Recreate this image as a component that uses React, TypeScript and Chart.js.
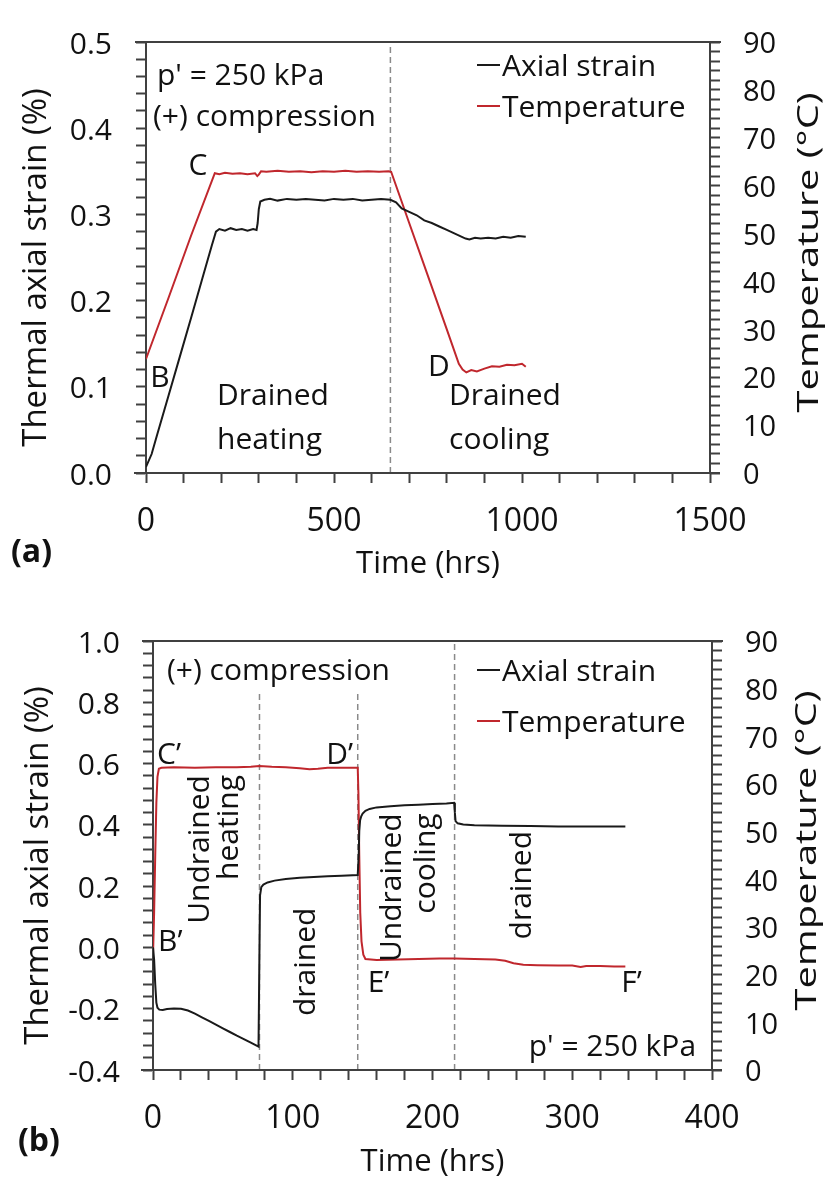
import { useEffect, useRef } from 'react';
import { Chart, registerables } from 'chart.js';

Chart.register(...registerables);

const FONT = '"Open Sans", "Noto Sans", sans-serif';
const BLACK = '#1a1a1a';
const RED = '#c0272d';
const AXIS = '#404040';
const DASH = '#8a8a8a';
const TEXT = '#111111';

const SERIES_NAMES = ['Axial strain', 'Temperature'];
const X_TITLE = 'Time (hrs)';
const LEFT_TITLE = 'Thermal axial strain (%)';
const RIGHT_TITLE = 'Temperature (\u00B0C)';

// ---------------- Panel (a) ----------------
const A_STRAIN_TIME = [
  0, 15, 30, 60, 90, 120, 150, 175,
  186, 195, 210, 225, 240, 255, 270, 285,
  294, 297, 300, 304, 315, 330, 350, 375,
  400, 425, 450, 475, 500, 525, 550, 575,
  600, 625, 650, 665, 680, 700, 720, 740,
  760, 780, 800, 820, 840, 850, 860, 875,
  890, 910, 930, 950, 970, 990, 1010,
];
const A_STRAIN = [
  0.007, 0.022, 0.045, 0.090, 0.135, 0.180, 0.226, 0.264,
  0.280, 0.283, 0.281, 0.284, 0.282, 0.283, 0.281, 0.283,
  0.282, 0.290, 0.306, 0.315, 0.317, 0.318, 0.316, 0.318,
  0.317, 0.318, 0.317, 0.316, 0.318, 0.317, 0.318, 0.316,
  0.317, 0.318, 0.317, 0.314, 0.307, 0.303, 0.299, 0.293,
  0.290, 0.286, 0.282, 0.278, 0.274, 0.272, 0.271, 0.273,
  0.272, 0.273, 0.272, 0.274, 0.273, 0.275, 0.274,
];
const A_TEMP_TIME = [
  0, 60, 120, 183, 195, 210, 230, 250,
  270, 290, 296, 300, 306, 320, 350, 380,
  410, 440, 470, 500, 530, 560, 590, 620,
  645, 652, 700, 750, 800, 832, 842, 852,
  865, 880, 900, 920, 940, 960, 980, 1000,
  1010,
];
const A_TEMP = [
  23.8, 36.6, 49.6, 62.6, 62.4, 62.7, 62.5, 62.6,
  62.4, 62.6, 62.0, 62.3, 63.0, 62.9, 63.1, 62.9,
  63.0, 62.8, 63.0, 62.9, 63.1, 62.9, 63.0, 62.9,
  63.0, 62.9, 52.2, 41.1, 30.0, 22.8, 21.6, 21.0,
  21.5, 21.2, 21.8, 22.3, 22.2, 22.6, 22.5, 22.8,
  22.2,
];
const A_DIVIDER_TIME = [650];
const A_DIVIDER_TOP = [0.5];
const A_X_LABELS = [0, 500, 1000, 1500];
const A_STRAIN_LABELS = [0.0, 0.1, 0.2, 0.3, 0.4, 0.5];
const A_TEMP_LABELS = [0, 10, 20, 30, 40, 50, 60, 70, 80, 90];
const A_NOTES = [
  { text: "p' = 250 kPa", t: 29, s: 0.460, align: 'left' },
  { text: '(+) compression', t: 18.6, s: 0.412, align: 'left' },
  { text: 'C', t: 138, s: 0.356, align: 'center' },
  { text: 'B', t: 37, s: 0.110, align: 'center' },
  { text: 'Drained', t: 189, s: 0.0892, align: 'left' },
  { text: 'heating', t: 189, s: 0.0377, align: 'left' },
  { text: 'D', t: 779, s: 0.122, align: 'center' },
  { text: 'Drained', t: 806, s: 0.0892, align: 'left' },
  { text: 'cooling', t: 806, s: 0.0377, align: 'left' },
];

// ---------------- Panel (b) ----------------
const B_STRAIN_TIME = [
  0, 0.8, 1.6, 2.4, 3.2, 4.5, 7, 10,
  15, 20, 25, 30, 35, 40, 45, 50,
  55, 60, 65, 70, 75.5, 76.2, 76.6, 77.5,
  79, 82, 87, 95, 105, 115, 125, 135,
  146.5, 147.2, 147.6, 148.2, 149, 150, 152, 155,
  160, 170, 180, 190, 200, 210, 215.5, 216,
  216.5, 218, 222, 230, 250, 270, 290, 310,
  338,
];
const B_STRAIN = [
  0.0, -0.04, -0.12, -0.18, -0.197, -0.203, -0.204, -0.201,
  -0.199, -0.200, -0.206, -0.216, -0.228, -0.240, -0.252, -0.264,
  -0.276, -0.288, -0.299, -0.311, -0.324, 0.0, 0.17, 0.197,
  0.205, 0.212, 0.218, 0.223, 0.227, 0.230, 0.232, 0.234,
  0.236, 0.30, 0.38, 0.415, 0.428, 0.437, 0.446, 0.452,
  0.457, 0.461, 0.464, 0.466, 0.468, 0.470, 0.472, 0.44,
  0.412, 0.405, 0.401, 0.399, 0.397, 0.396, 0.395, 0.395,
  0.395,
];
const B_TEMP_TIME = [
  0, 0.8, 1.6, 2.4, 3.2, 4.2, 6, 15,
  30, 45, 60, 70, 76, 85, 95, 105,
  112, 118, 125, 135, 146.5, 147, 147.6, 148.3,
  149.2, 150.5, 152, 160, 175, 190, 205, 216,
  230, 245, 252, 258, 265, 275, 290, 300,
  306, 310, 320, 330, 338,
];
const B_TEMP = [
  24.0, 33, 45, 56, 61.5, 63.2, 63.4, 63.5,
  63.4, 63.5, 63.5, 63.6, 63.8, 63.6, 63.5, 63.3,
  63.1, 63.2, 63.4, 63.4, 63.4, 58, 45, 33,
  27, 24.2, 23.3, 23.1, 23.2, 23.3, 23.4, 23.4,
  23.3, 23.2, 22.9, 22.4, 22.1, 22.0, 21.9, 21.9,
  21.6, 21.8, 21.8, 21.7, 21.7,
];
const B_DIVIDER_TIME = [76.2, 146.5, 215.8];
const B_DIVIDER_TOP = [0.83, 0.83, 1.0];
const B_X_LABELS = [0, 100, 200, 300, 400];
const B_STRAIN_LABELS = [-0.4, -0.2, 0.0, 0.2, 0.4, 0.6, 0.8, 1.0];
const B_TEMP_LABELS = [0, 10, 20, 30, 40, 50, 60, 70, 80, 90];
const B_NOTES = [
  { text: '(+) compression', t: 10, s: 0.9, align: 'left' },
  { text: 'C\u2019', t: 2.9, s: 0.625, align: 'left' },
  { text: 'D\u2019', t: 124, s: 0.625, align: 'left' },
  { text: 'B\u2019', t: 3.6, s: 0.016, align: 'left' },
  { text: 'E\u2019', t: 153.6, s: -0.116, align: 'left' },
  { text: 'F\u2019', t: 335, s: -0.116, align: 'left' },
  { text: "p' = 250 kPa", t: 388.6, s: -0.328, align: 'right' },
  { text: 'Undrained', t: 34.3, s: 0.5625, align: 'right', rotate: true },
  { text: 'heating', t: 55, s: 0.5625, align: 'right', rotate: true },
  { text: 'drained', t: 110, s: -0.047, align: 'center', rotate: true },
  { text: 'Undrained', t: 171.4, s: 0.4375, align: 'right', rotate: true },
  { text: 'cooling', t: 195.7, s: 0.4375, align: 'right', rotate: true },
  { text: 'drained', t: 264.6, s: 0.203, align: 'center', rotate: true },
];

const PANEL_A = {
  strainTime: A_STRAIN_TIME, strain: A_STRAIN, tempTime: A_TEMP_TIME, temp: A_TEMP,
  dividerTime: A_DIVIDER_TIME, dividerTop: A_DIVIDER_TOP,
  xMin: 0, xMax: 1500, xStep: 100, xLabels: A_X_LABELS,
  sMin: 0, sMax: 0.5, sStep: 0.02, sLabels: A_STRAIN_LABELS,
  tMin: 0, tMax: 90, tStep: 2, tLabels: A_TEMP_LABELS,
  padTop: 24, xHeight: 127, leftWidth: 146, rightWidth: 120,
  leftTickPad: 24, rightTickPad: 23, xTickPad: 20, leftTitleX: 37, xTitlePad: 17,
  notes: A_NOTES, legendRows: [25, 66], legendX: 233, rightTitleOffset: 99,
  panelLabel: '(a)', panelLabelX: 11, panelLabelDy: 80,
};

const PANEL_B = {
  strainTime: B_STRAIN_TIME, strain: B_STRAIN, tempTime: B_TEMP_TIME, temp: B_TEMP,
  dividerTime: B_DIVIDER_TIME, dividerTop: B_DIVIDER_TOP,
  xMin: 0, xMax: 400, xStep: 20, xLabels: B_X_LABELS,
  sMin: -0.4, sMax: 1.0, sStep: 0.04, sLabels: B_STRAIN_LABELS,
  tMin: 0, tMax: 90, tStep: 2, tLabels: B_TEMP_LABELS,
  padTop: 22, xHeight: 112, leftWidth: 153, rightWidth: 118,
  leftTickPad: 23, rightTickPad: 23, xTickPad: 20, leftTitleX: 39, xTitlePad: 1,
  notes: B_NOTES, legendRows: [31, 82], legendX: 235, rightTitleOffset: 95,
  panelLabel: '(b)', panelLabelX: 18, panelLabelDy: 72,
};

const pts = (xs: number[], ys: number[]) => xs.map((x, i) => ({ x, y: ys[i] }));
const isLabel = (labels: number[], v: number) => labels.some((l) => Math.abs(l - v) < 1e-6);

function drawOverlay(chart: any, p: any) {
  const { ctx, chartArea: ca, scales } = chart;
  const xs = scales.x;
  const yl = scales.yL;
  const midY = (ca.top + ca.bottom) / 2;
  ctx.save();
  // frame: top line, and slight extension of bottom line
  ctx.strokeStyle = AXIS;
  ctx.lineWidth = 2;
  ctx.beginPath();
  ctx.moveTo(ca.left - 11, ca.top);
  ctx.lineTo(ca.right + 11, ca.top);
  ctx.moveTo(ca.left - 12, ca.bottom);
  ctx.lineTo(ca.right + 10, ca.bottom);
  ctx.stroke();

  // annotations
  ctx.fillStyle = TEXT;
  ctx.textBaseline = 'middle';
  for (const n of p.notes) {
    const x = xs.getPixelForValue(n.t);
    const y = yl.getPixelForValue(n.s);
    ctx.save();
    ctx.translate(x, y);
    if (n.rotate) ctx.rotate(-Math.PI / 2);
    ctx.font = `30px ${FONT}`;
    ctx.textAlign = n.align;
    ctx.fillText(n.text, 0, 0);
    ctx.restore();
  }

  // legend
  const ds = chart.data.datasets;
  [0, 1].forEach((i) => {
    const y = ca.top + p.legendRows[i];
    const x0 = ca.right - p.legendX;
    ctx.strokeStyle = ds[i].borderColor;
    ctx.lineWidth = 2;
    ctx.beginPath();
    ctx.moveTo(x0, y - 2);
    ctx.lineTo(x0 + 23, y - 2);
    ctx.stroke();
    ctx.font = `30px ${FONT}`;
    ctx.textAlign = 'left';
    ctx.fillStyle = TEXT;
    ctx.fillText(ds[i].label, x0 + 25, y);
  });

  // left axis title (slightly below the axis middle, as in the figure)
  const lt = scales.yL.options.title.text;
  ctx.save();
  ctx.translate(p.leftTitleX, midY + 10);
  ctx.rotate(-Math.PI / 2);
  ctx.font = `33px ${FONT}`;
  ctx.textAlign = 'center';
  ctx.fillText(lt, 0, 0);
  ctx.restore();

  // right axis title (reads bottom-to-top)
  const rt = scales.yR.options.title.text;
  ctx.save();
  ctx.translate(ca.right + p.rightTitleOffset, midY - 5);
  ctx.rotate(-Math.PI / 2);
  ctx.scale(1.33, 1);
  ctx.font = `30px ${FONT}`;
  ctx.textAlign = 'center';
  ctx.fillText(rt, 0, 0);
  ctx.restore();

  // panel label
  ctx.font = `bold 32px ${FONT}`;
  ctx.textAlign = 'left';
  ctx.fillText(p.panelLabel, p.panelLabelX, ca.bottom + p.panelLabelDy);
  ctx.restore();
}

function makeChart(canvas: HTMLCanvasElement, p: any) {
  const datasets: any[] = [
    {
      label: SERIES_NAMES[0], data: pts(p.strainTime, p.strain), borderColor: BLACK,
      backgroundColor: BLACK, borderWidth: 2, pointRadius: 0, yAxisID: 'yL', tension: 0, fill: false,
    },
    {
      label: SERIES_NAMES[1], data: pts(p.tempTime, p.temp), borderColor: RED,
      backgroundColor: RED, borderWidth: 2, pointRadius: 0, yAxisID: 'yR', tension: 0, fill: false,
    },
  ];
  p.dividerTime.forEach((t: number, i: number) => {
    datasets.push({
      label: '', data: [{ x: t, y: p.sMin }, { x: t, y: p.dividerTop[i] }], borderColor: DASH,
      borderWidth: 1.5, borderDash: [6, 4], pointRadius: 0, yAxisID: 'yL', fill: false,
    });
  });
  const grid = {
    display: true, drawOnChartArea: false, drawTicks: true, tickLength: 10, tickWidth: 2, tickColor: AXIS,
  };
  const border = { display: true, color: AXIS, width: 2 };
  const xTickFont = { family: FONT, size: 32 };
  const leftTickFont = { family: FONT, size: 30 };
  const rightTickFont = { family: FONT, size: 29 };
  const titleFont = { family: FONT, size: 31 };
  const overlay = { id: 'overlay', afterDraw: (chart: any) => drawOverlay(chart, p) };

  return new Chart(canvas, {
    type: 'line',
    data: { datasets },
    options: {
      responsive: false,
      animation: false,
      devicePixelRatio: 1,
      layout: { padding: { top: p.padTop, left: 0, right: 0, bottom: 0 } },
      plugins: { legend: { display: false }, tooltip: { enabled: false } },
      scales: {
        x: {
          type: 'linear', position: 'bottom', min: p.xMin, max: p.xMax,
          afterFit: (s: any) => { s.height = p.xHeight; },
          ticks: {
            stepSize: p.xStep, autoSkip: false, maxRotation: 0, minRotation: 0, padding: p.xTickPad,
            color: TEXT, font: xTickFont,
            callback: (v: any) => (isLabel(p.xLabels, v) ? String(v) : ''),
          },
          grid, border,
          title: { display: true, text: X_TITLE, color: TEXT, font: titleFont, padding: { top: 0, bottom: p.xTitlePad } },
        },
        yL: {
          type: 'linear', position: 'left', min: p.sMin, max: p.sMax,
          afterFit: (s: any) => { s.width = p.leftWidth; },
          ticks: {
            stepSize: p.sStep, autoSkip: false, padding: p.leftTickPad, labelOffset: 3,
            color: TEXT, font: leftTickFont,
            callback: (v: any) => (isLabel(p.sLabels, v) ? Number(v).toFixed(1) : ''),
          },
          grid, border,
          title: { display: false, text: LEFT_TITLE },
        },
        yR: {
          type: 'linear', position: 'right', min: p.tMin, max: p.tMax,
          afterFit: (s: any) => { s.width = p.rightWidth; },
          ticks: {
            stepSize: p.tStep, autoSkip: false, padding: p.rightTickPad, labelOffset: 3,
            color: TEXT, font: rightTickFont,
            callback: (v: any) => (isLabel(p.tLabels, v) ? String(v) : ''),
          },
          grid, border,
          title: { display: false, text: RIGHT_TITLE },
        },
      },
    },
    plugins: [overlay],
  } as any);
}

export default function App() {
  const refA = useRef<HTMLCanvasElement>(null);
  const refB = useRef<HTMLCanvasElement>(null);
  useEffect(() => {
    const a = makeChart(refA.current as HTMLCanvasElement, PANEL_A);
    const b = makeChart(refB.current as HTMLCanvasElement, PANEL_B);
    return () => { a.destroy(); b.destroy(); };
  }, []);
  return (
    <div style={{ position: 'absolute', left: 0, top: 0, width: 830, height: 1182, background: '#ffffff' }}>
      <canvas ref={refA} width={830} height={600}
        style={{ position: 'absolute', left: 0, top: 0, width: 830, height: 600 }} />
      <canvas ref={refB} width={830} height={582}
        style={{ position: 'absolute', left: 0, top: 600, width: 830, height: 582 }} />
    </div>
  );
}
